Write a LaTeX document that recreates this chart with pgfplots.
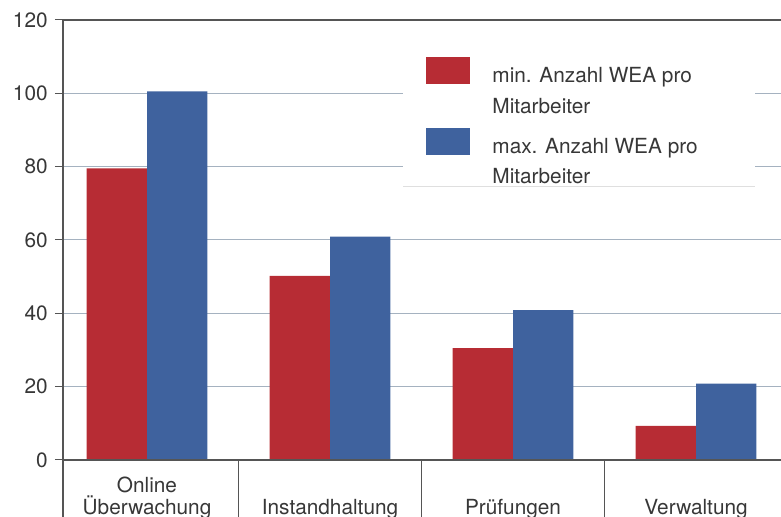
\documentclass[border=0pt]{standalone}
\usepackage{pgfplots}
\pgfplotsset{compat=1.18}
\usepackage{fontspec}
\setmainfont{TeX Gyre Heros}
\definecolor{cred}{RGB}{183,44,52}
\definecolor{cblue}{RGB}{63,98,158}
\definecolor{gridc}{RGB}{165,178,192}
\definecolor{axc}{RGB}{85,85,85}
\definecolor{txt}{RGB}{55,55,55}
\begin{document}
\fontsize{10.4}{12.5}\selectfont
\begin{tikzpicture}
\begin{axis}[
  scale only axis, width=359pt, height=220pt,
  xmin=-0.459, xmax=3.464, ymin=0, ymax=120,
  ybar=0pt, bar width=0.33,
  xtick={0,1,2,3},
  xticklabels={{Online\\Überwachung},Instandhaltung,Prüfungen,Verwaltung},
  xtick pos=bottom, ytick pos=left,
  x tick style={draw=none},
  xticklabel style={anchor=south, align=center, inner sep=0pt, yshift=-25.9pt, text=txt, font=\fontsize{10.4}{11.2}\selectfont},
  ytick={0,20,...,120},
  y tick style={draw=axc, line width=0.5pt},
  tick align=outside, major tick length=4pt,
  ymajorgrids, grid style={draw=gridc, line width=0.5pt},
  axis line style={draw=none},
  yticklabel style={text=txt},
  /pgf/number format/assume math mode=true,
  clip=false,
  legend style={at={(axis cs:1.5246,110.0)}, anchor=north west, draw=none, fill=none,
    inner sep=0pt, row sep=4.8pt, column sep=11pt,
    nodes={inner sep=0pt, text height=8pt, text depth=2.5pt, text=txt}},
  legend cell align=left,
  legend image code/.code={\fill[#1, draw=none] (0pt,-3.5pt) rectangle (22pt,10pt);},
]
\fill[white] (axis cs:1.4,74.5) rectangle (axis cs:3.32,117);
\draw[gray!25, line width=0.6pt] (axis cs:1.4,74.5) -- (axis cs:3.32,74.5);
\addplot[fill=cred, draw=none, bar shift=-0.165] coordinates {(0,79.5) (1,50.2) (2,30.5) (3,9.3)};
\addlegendentry{min. Anzahl WEA pro}
\addlegendimage{empty legend}
\addlegendentry{Mitarbeiter}
\addplot[fill=cblue, draw=none, bar shift=0.165] coordinates {(0,100.5) (1,60.9) (2,40.9) (3,20.8)};
\addlegendentry{max. Anzahl WEA pro}
\addlegendimage{empty legend}
\addlegendentry{Mitarbeiter}
\draw[axc, line width=0.6pt] (rel axis cs:0,1) -- (rel axis cs:1,1);
\draw[axc, line width=0.6pt] (rel axis cs:0,0) -- (rel axis cs:1,0);
\draw[axc, line width=0.6pt] (rel axis cs:0,1) -- (rel axis cs:0,0) -- ++(0pt,-30pt);
\draw[axc, line width=0.6pt] (axis cs:0.5,0) -- ++(0pt,-30pt);
\draw[axc, line width=0.6pt] (axis cs:1.5,0) -- ++(0pt,-30pt);
\draw[axc, line width=0.6pt] (axis cs:2.5,0) -- ++(0pt,-30pt);
\end{axis}
\pgfresetboundingbox
\path (-31.5pt,-28.5pt) rectangle (359pt,230pt);
\end{tikzpicture}
\end{document}
